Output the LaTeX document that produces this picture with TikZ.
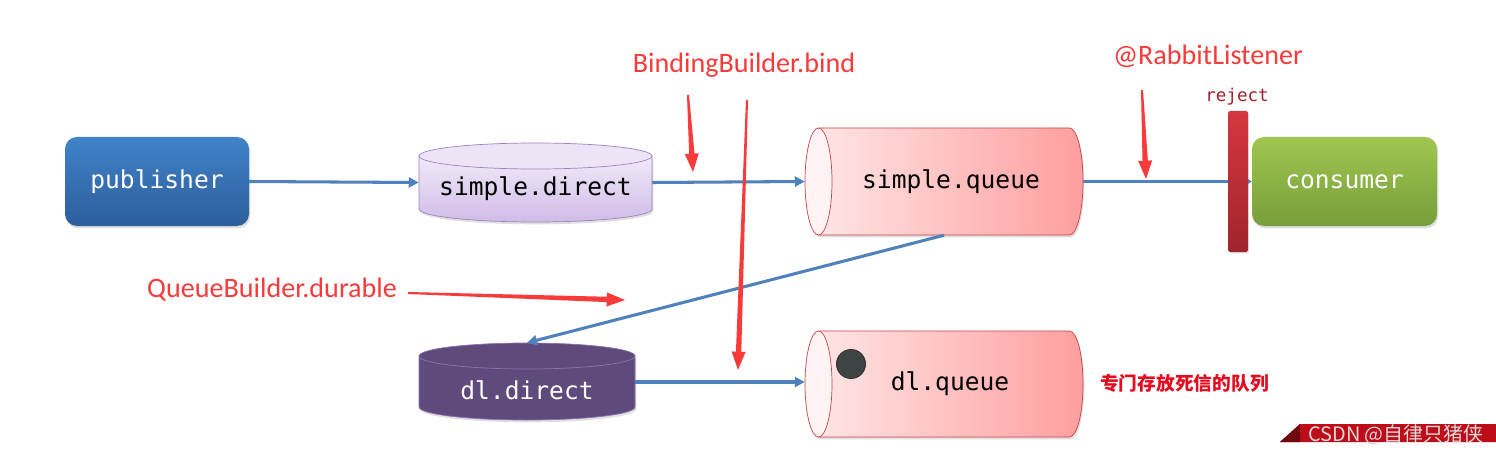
\documentclass[tikz,border=0pt]{standalone}
\usepackage{fontspec}
\setmainfont{Carlito}
\newfontfamily\monof{DejaVu Sans Mono}
\newfontfamily\cjk{Noto Sans CJK SC}
\usetikzlibrary{arrows.meta,calc,shadows}
\definecolor{blueline}{HTML}{4F81BD}
\definecolor{annred}{HTML}{F83A3A}
\definecolor{rejred}{HTML}{A3202A}
\definecolor{qborder}{HTML}{C8454A}
\definecolor{pborder}{HTML}{9C82C2}
\definecolor{dlpurple}{HTML}{5F4A7C}
\definecolor{dltop}{HTML}{5F4A7C}
\definecolor{dlborder}{HTML}{8A74AE}
\definecolor{pubtop}{RGB}{64,130,201}
\definecolor{pubbot}{RGB}{45,94,155}
\definecolor{contop}{RGB}{160,198,80}
\definecolor{conbot}{RGB}{118,158,58}
\definecolor{sdtop}{RGB}{241,234,248}
\definecolor{sdbot}{RGB}{208,188,232}
\definecolor{sdlid}{RGB}{237,228,246}
\definecolor{qleft}{RGB}{255,232,232}
\definecolor{qright}{RGB}{255,158,158}
\definecolor{qface}{RGB}{255,243,243}
\definecolor{rejtop}{RGB}{214,55,64}
\definecolor{rejbot}{RGB}{160,36,44}
\definecolor{dot}{RGB}{62,68,68}
\definecolor{cnred}{RGB}{230,10,30}
\definecolor{wmred}{RGB}{190,12,24}
\definecolor{wmdark}{RGB}{110,8,12}
\tikzset{
  conn/.style={draw=blueline, line width=2.6pt, -{Triangle[length=0.3cm,width=0.3cm]}},
  monotext/.style={font=\monof\fontsize{21}{25}\selectfont, inner sep=0pt},
  anntext/.style={font=\fontsize{24}{28}\selectfont, text=annred, inner sep=0pt},
  ghost/.style={inner sep=0pt, draw=none},
  softshadow/.style={drop shadow={opacity=0.25, shadow xshift=0.04cm, shadow yshift=-0.07cm}}
}
\newcommand{\redarr}[2]{%
  \path ($(#2)!0.55cm!(#1)$) coordinate (ran);
  \fill[annred] ($(#1)!0.03cm!90:(#2)$) -- ($(ran)!0.08cm!90:(#2)$) -- ($(ran)!0.21cm!90:(#2)$) -- (#2)
    -- ($(ran)!0.21cm!-90:(#2)$) -- ($(ran)!0.08cm!-90:(#2)$) -- ($(#1)!0.03cm!-90:(#2)$) -- cycle;
}
% vertical cylinder: x1,x2,ytop,ybot (ellipse centres), ry, body shading, top fill, border
\newcommand{\vcyl}[8]{%
  \pgfmathsetmacro\cylcx{(#1+#2)/2}\pgfmathsetmacro\cylrx{(#2-#1)/2}
  \shade[#6, softshadow] (#1,#3) -- (#1,#4) arc[start angle=180,end angle=0,x radius=\cylrx,y radius=#5] -- (#2,#3) -- cycle;
  \draw[#8, line width=0.6pt] (#1,#3) -- (#1,#4) arc[start angle=180,end angle=0,x radius=\cylrx,y radius=#5] -- (#2,#3);
  \filldraw[fill=#7, draw=#8, line width=0.6pt] (\cylcx,#3) ellipse[x radius=\cylrx, y radius=#5];
}
% horizontal cylinder: x1,x2 (ellipse centres), ytop, ybot, rx
\newcommand{\hcyl}[5]{%
  \pgfmathsetmacro\cylry{(#4-#3)/2}
  \shade[left color=qleft, right color=qright, softshadow] (#1,#3) -- (#2,#3) arc[start angle=-90,end angle=90,x radius=#5,y radius=\cylry]
     -- (#1,#4) arc[start angle=90,end angle=270,x radius=#5,y radius=\cylry] -- cycle;
  \draw[qborder, line width=0.6pt] (#1,#3) -- (#2,#3) arc[start angle=-90,end angle=90,x radius=#5,y radius=\cylry] -- (#1,#4);
  \filldraw[fill=qface, draw=qborder, line width=0.6pt] (#1,{(#3+#4)/2}) ellipse[x radius=#5, y radius=\cylry];
}
\begin{document}
\begin{tikzpicture}[x=0.03cm,y=-0.03cm]
\useasboundingbox (0,0) rectangle (1496,456);
\fill[white] (0,0) rectangle (1496,456);

% ---- shapes ----
\node[ghost, minimum width=5.52cm, minimum height=2.67cm] (pub) at (157,181.5) {};
\shade[top color=pubtop, bottom color=pubbot, rounded corners=0.36cm, softshadow] (65,137) rectangle (249,226);
\node[monotext, text=white] at (157,182) {publisher};

\vcyl{419}{652}{156}{209}{13}{top color=sdtop, bottom color=sdbot}{sdlid}{pborder}
\node[ghost, minimum width=6.99cm, minimum height=2.37cm] (sd) at (535.5,182.5) {};
\node[monotext] at (535.5,189) {simple.direct};

\hcyl{818.5}{1069.5}{128}{235}{13.5}
\node[ghost, minimum width=8.34cm, minimum height=3.21cm] (sq) at (944,181.5) {};
\node[monotext] at (951,182) {simple.queue};

\vcyl{419}{635}{356}{407}{13}{top color=dlpurple, bottom color=dlpurple}{dltop}{dlborder}
\node[ghost, minimum width=6.48cm, minimum height=2.34cm] (dd) at (527,382) {};
\node[monotext, text=white] at (527,390) {dl.direct};

\hcyl{818.5}{1069.5}{331}{437}{13.5}
\node[ghost, minimum width=8.34cm, minimum height=3.18cm] (dq) at (944,384) {};
\node[monotext] at (950,384) {dl.queue};
\filldraw[fill=dot, draw=black!80, line width=0.8pt] (851,364) circle[radius=14.5];

% consumer
\node[ghost, minimum width=5.55cm, minimum height=2.67cm] (con) at (1344.5,181.5) {};
\shade[top color=contop, bottom color=conbot, rounded corners=0.36cm, softshadow] (1252,137) rectangle (1437,226);
\node[monotext, text=white] at (1344.5,182) {consumer};

% ---- connectors ----
\draw[conn] (pub.east) -- (sd.west);
\draw[conn] (sd.east) -- (sq.west);
\draw[draw=blueline, line width=2.6pt, -{Triangle[length=0.12cm,width=0.15cm]}] (sq.east) -- (con.west);
\draw[conn] (sq.south) -- (dd.north);
\draw[conn] (dd.east) -- (dq.west |- dd.east);

% reject bar
\shade[top color=rejtop, bottom color=rejbot, rounded corners=1.5pt,
  drop shadow={opacity=0.2, shadow xshift=0.03cm, shadow yshift=-0.05cm}] (1228,111) rectangle (1248,252);
\node[font=\monof\fontsize{15}{18}\selectfont, text=rejred, inner sep=0pt] (rej) at (1237,97) {reject};

% ---- annotations ----
\node[anntext] (bb) at (744,65) {BindingBuilder.bind};
\node[anntext] (rl) at (1208,56) {@RabbitListener};
\node[anntext, anchor=west] (qb) at (147,290) {QueueBuilder.durable};
\node[font=\cjk\bfseries\fontsize{16}{19}\selectfont, text=cnred, inner sep=0pt, anchor=west] (cn) at (1100,383) {专门存放死信的队列};

\coordinate (a1s) at (688,95);  \coordinate (a1t) at (693,172);
\coordinate (a2s) at (747,100); \coordinate (a2t) at (738,370);
\coordinate (a3s) at (1142,90); \coordinate (a3t) at (1146,179);
\coordinate (a4s) at (408,293); \coordinate (a4t) at (625,300);
\redarr{a1s}{a1t}
\redarr{a2s}{a2t}
\redarr{a3s}{a3t}
\redarr{a4s}{a4t}

% ---- watermark ----
\fill[wmred] (1280,442) -- (1300,424) -- (1496,424) -- (1496,442) -- cycle;
\fill[wmdark] (1280,442) -- (1300,424) -- (1300,442) -- cycle;
\node[font=\cjk\fontsize{17}{20}\selectfont, text=black!15, inner sep=0pt, anchor=west] (wm) at (1308,435) {CSDN @自律只猪侠};
\end{tikzpicture}
\end{document}
